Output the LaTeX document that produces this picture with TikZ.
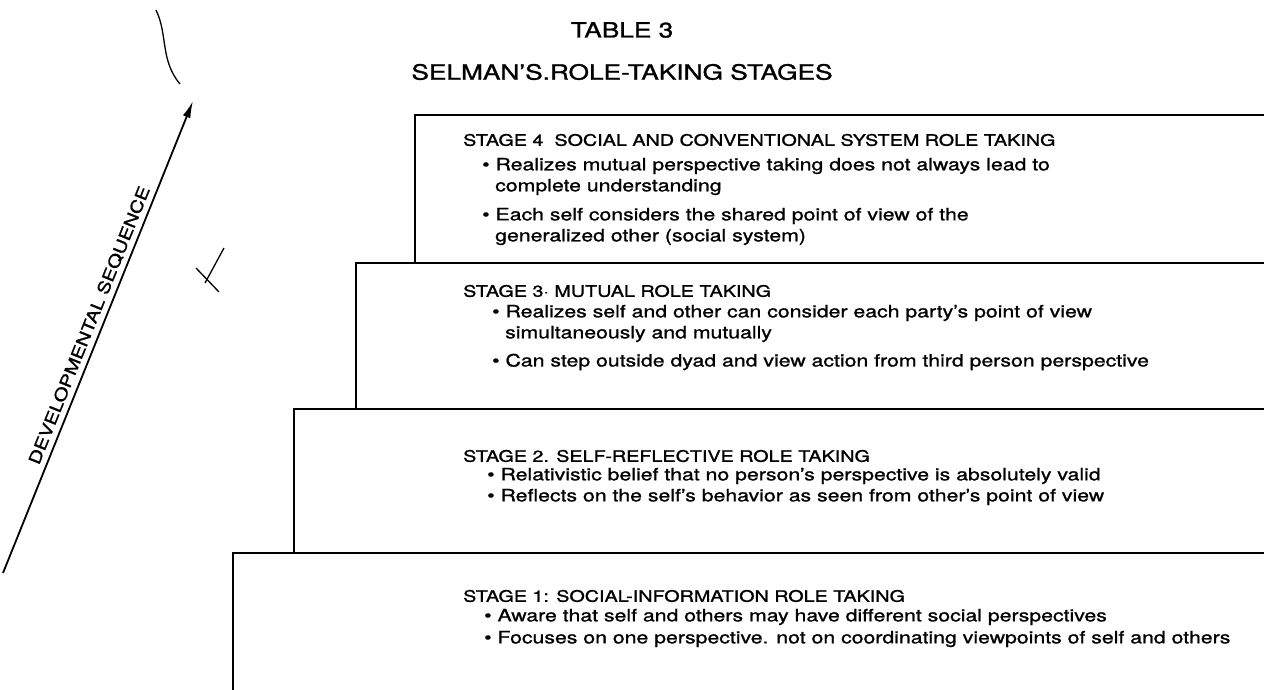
\documentclass[tikz,border=0pt]{standalone}
\usepackage{fontspec}
\setmainfont{TeX Gyre Heros}[FakeStretch=1.25,FakeBold=1.2]
\usetikzlibrary{arrows.meta}
\tikzset{>={Latex[length=17pt,width=8pt]}}
\tikzset{stage/.style={anchor=west,inner sep=0pt,font=\fontsize{15.8}{18}\selectfont},
  item/.style={anchor=west,inner sep=0pt,font=\fontsize{17}{19}\selectfont},
  box/.style={line width=2.2pt}}

\begin{document}
\begin{tikzpicture}[x=1pt,y=-1pt]
\useasboundingbox (0,0) rectangle (1264,690);
% title
\node [font=\fontsize{21}{24}\selectfont] (tab) at (622,30) {TABLE 3};
\node [font=\fontsize{21}{24}\selectfont] (ttl) at (622,72) {SELMAN'S.ROLE-TAKING STAGES};
% stair of boxes, open to the right
\draw [box] (415,263) -- (415,115) -- (1264,115);
\draw [box] (356,409) -- (356,263) -- (1264,263);
\draw [box] (294,553) -- (294,409) -- (1264,409);
\draw [box] (233,690) -- (233,553) -- (1264,553);
% stage 4
\node [stage] (s4) at (463,140) {STAGE 4\ \ SOCIAL AND CONVENTIONAL SYSTEM ROLE TAKING};
\node [item] (s4a) at (482,166) {\textbullet\ Realizes mutual perspective taking does not always lead to};
\node [item] (s4b) at (495,187) {complete understanding};
\node [item] (s4c) at (482,216) {\textbullet\ Each self considers the shared point of view of the};
\node [item] (s4d) at (495,237) {generalized other (social system)};
% stage 3
\node [stage] (s3) at (463,291) {STAGE 3· MUTUAL ROLE TAKING};
\node [item] (s3a) at (492,313) {\textbullet\ Realizes self and other can consider each party's point of view};
\node [item] (s3b) at (505,334) {simultaneously and mutually};
\node [item] (s3c) at (492,362) {\textbullet\ Can step outside dyad and view action from third person perspective};
% stage 2
\node [stage] (s2) at (463,456) {STAGE 2. SELF-REFLECTIVE ROLE TAKING};
\node [item] (s2a) at (487,476) {\textbullet\ Relativistic belief that no person's perspective is absolutely valid};
\node [item] (s2b) at (487,497) {\textbullet\ Reflects on the self's behavior as seen from other's point of view};
% stage 1
\node [stage] (s1) at (463,596) {STAGE 1: SOCIAL-INFORMATION ROLE TAKING};
\node [item] (s1a) at (484,617) {\textbullet\ Aware that self and others may have different social perspectives};
\node [item] (s1b) at (484,639) {\textbullet\ Focuses on one perspective. not on coordinating viewpoints of self and others};
% developmental arrow
\coordinate (low) at (3,573);
\coordinate (high) at (193,101);
\draw [->,line width=1.8pt] (low) -- node [sloped,above=5pt,inner sep=0pt,pos=0.515,font=\fontsize{16.4}{18}\selectfont] (seq) {DEVELOPMENTAL SEQUENCE} (high);
% pen marks
\draw [line width=1.3pt] (156,10) .. controls (168,35) and (160,60) .. (180,84);
\draw [line width=1.3pt] (205,283) -- (224,248);
\draw [line width=1.3pt] (196,268) -- (219,292);
\end{tikzpicture}
\end{document}
